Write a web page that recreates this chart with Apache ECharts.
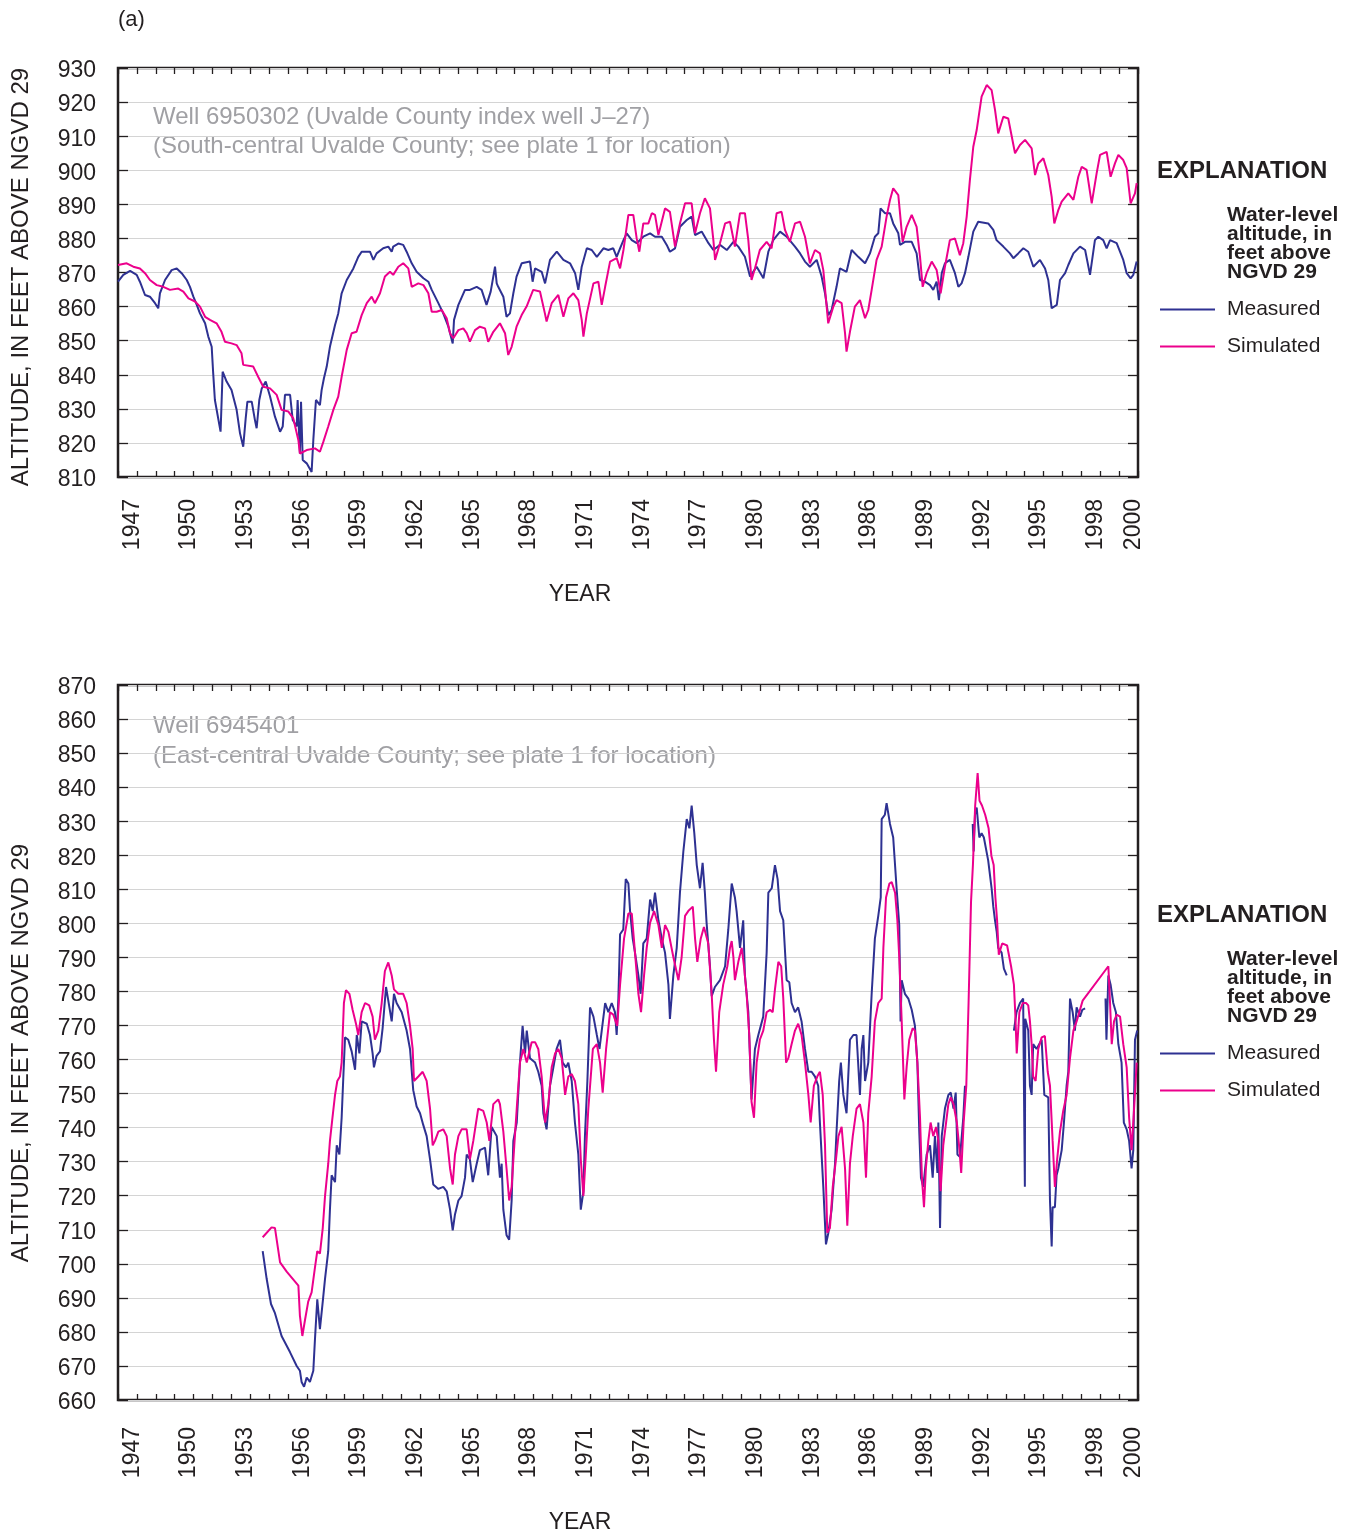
<!DOCTYPE html>
<html>
<head>
<meta charset="utf-8">
<script src="https://cdn.jsdelivr.net/npm/echarts@6/dist/echarts.min.js"></script>
<style>
  html, body { margin: 0; padding: 0; background: #fff; }
  #chart { width: 1353px; height: 1535px; }
</style>
</head>
<body>
<div id="chart"></div>
<script>
// year tick labels (one category per calendar year)
const yearLabels = ['1947','1948','1949','1950','1951','1952','1953','1954','1955','1956',
  '1957','1958','1959','1960','1961','1962','1963','1964','1965','1966','1967','1968','1969',
  '1970','1971','1972','1973','1974','1975','1976','1977','1978','1979','1980','1981','1982',
  '1983','1984','1985','1986','1987','1988','1989','1990','1991','1992','1993','1994','1995',
  '1996','1997','1998','1999','2000'];

// (a) Well 6950302 -- [decimal year, altitude]
const wellAMeasured = [[1947.00,867.3],[1947.28,869.3],[1947.64,870.5],[1947.99,869.3],[1948.16,867.3],[1948.43,863.4],[1948.69,862.9],[1948.96,861.0],[1949.13,859.5],[1949.22,863.9],[1949.49,867.8],[1949.84,870.7],[1950.11,871.2],[1950.37,869.8],[1950.64,867.8],[1950.81,865.8],[1950.99,862.9],[1951.17,860.5],[1951.34,858.0],[1951.61,855.1],[1951.78,851.2],[1951.96,848.2],[1952.04,840.4],[1952.13,832.6],[1952.43,823.3],[1952.54,840.9],[1952.75,838.0],[1953.01,835.5],[1953.28,829.7],[1953.46,822.8],[1953.63,818.9],[1953.76,827.2],[1953.85,832.1],[1954.08,832.1],[1954.25,826.7],[1954.34,824.3],[1954.48,832.6],[1954.61,836.0],[1954.82,838.0],[1955.05,833.6],[1955.31,827.7],[1955.58,823.3],[1955.72,824.8],[1955.84,834.1],[1956.11,834.1],[1956.25,826.7],[1956.46,824.8],[1956.51,832.6],[1956.63,816.9],[1956.69,832.1],[1956.78,815.0],[1956.99,814.0],[1957.25,811.5],[1957.34,820.8],[1957.48,832.6],[1957.69,831.1],[1957.78,835.5],[1957.90,838.9],[1958.05,842.4],[1958.22,848.2],[1958.49,854.6],[1958.66,858.0],[1958.84,863.9],[1959.11,867.8],[1959.46,871.2],[1959.72,874.6],[1959.90,876.1],[1960.34,876.1],[1960.52,873.7],[1960.69,875.6],[1961.04,877.1],[1961.31,877.6],[1961.49,876.1],[1961.57,877.6],[1961.84,878.5],[1962.10,878.1],[1962.28,876.1],[1962.55,872.7],[1962.81,870.2],[1963.17,868.3],[1963.43,867.3],[1963.61,864.9],[1963.96,861.0],[1964.22,858.0],[1964.49,854.1],[1964.72,849.2],[1964.79,856.1],[1965.02,860.5],[1965.37,864.9],[1965.63,864.9],[1965.99,865.8],[1966.25,864.9],[1966.51,860.5],[1966.73,864.4],[1966.96,871.7],[1967.05,866.8],[1967.13,865.8],[1967.40,862.9],[1967.57,857.0],[1967.75,858.0],[1967.93,863.9],[1968.10,868.8],[1968.37,872.7],[1968.81,873.2],[1968.95,867.3],[1969.08,871.2],[1969.43,870.2],[1969.61,866.8],[1969.87,873.7],[1970.23,876.1],[1970.58,873.7],[1970.93,872.7],[1971.20,869.8],[1971.37,864.9],[1971.55,871.7],[1971.82,877.1],[1972.08,876.6],[1972.35,874.6],[1972.70,877.1],[1972.96,876.6],[1973.22,877.1],[1973.40,874.6],[1973.58,877.1],[1973.76,879.5],[1973.93,881.5],[1974.20,879.5],[1974.46,878.6],[1974.81,880.5],[1975.17,881.5],[1975.43,880.5],[1975.79,880.5],[1976.05,878.1],[1976.22,876.1],[1976.49,877.1],[1976.75,883.4],[1977.11,885.4],[1977.37,886.4],[1977.55,881.0],[1977.90,882.0],[1978.26,878.6],[1978.52,876.6],[1978.87,878.1],[1979.23,876.6],[1979.58,879.0],[1979.84,877.6],[1980.19,874.6],[1980.46,868.8],[1980.81,871.7],[1981.17,868.3],[1981.43,876.1],[1981.69,879.5],[1982.05,882.0],[1982.40,880.5],[1982.84,877.6],[1983.11,875.6],[1983.37,873.2],[1983.63,871.7],[1983.99,873.7],[1984.25,868.8],[1984.43,863.9],[1984.60,857.5],[1984.78,859.0],[1985.04,865.8],[1985.22,871.2],[1985.57,870.2],[1985.84,876.6],[1986.19,874.6],[1986.55,872.7],[1986.81,875.6],[1987.07,880.5],[1987.25,881.5],[1987.37,888.8],[1987.60,887.4],[1987.87,887.4],[1988.04,884.4],[1988.31,881.5],[1988.40,878.1],[1988.66,879.0],[1989.02,879.0],[1989.28,875.6],[1989.46,867.8],[1989.72,867.3],[1989.99,866.3],[1990.16,864.9],[1990.34,867.3],[1990.46,861.9],[1990.61,869.8],[1990.78,872.7],[1991.04,873.7],[1991.31,869.8],[1991.49,865.8],[1991.66,866.8],[1991.84,869.8],[1992.02,874.6],[1992.28,882.0],[1992.54,884.9],[1993.07,884.4],[1993.34,882.5],[1993.51,879.5],[1993.87,877.6],[1994.22,875.6],[1994.40,874.2],[1994.66,875.6],[1994.93,877.1],[1995.19,876.1],[1995.46,871.7],[1995.81,873.7],[1996.08,871.2],[1996.25,867.8],[1996.43,859.5],[1996.70,860.5],[1996.87,867.8],[1997.14,869.8],[1997.31,872.2],[1997.58,875.6],[1997.93,877.6],[1998.20,876.6],[1998.46,869.3],[1998.72,879.5],[1998.90,880.5],[1999.16,879.5],[1999.34,877.1],[1999.52,879.5],[1999.87,878.6],[2000.22,873.7],[2000.40,869.8],[2000.61,868.3],[2000.75,869.3],[2000.93,873.2]];

const wellASimulated = [[1947.00,872.2],[1947.46,872.7],[1947.81,871.7],[1948.16,871.2],[1948.43,869.8],[1948.69,867.8],[1949.05,866.3],[1949.40,865.8],[1949.75,864.9],[1950.19,865.3],[1950.46,864.4],[1950.73,862.4],[1951.08,861.5],[1951.34,860.0],[1951.61,857.0],[1951.87,856.1],[1952.22,855.1],[1952.48,852.6],[1952.66,849.7],[1953.01,849.2],[1953.28,848.7],[1953.54,846.3],[1953.63,842.9],[1954.16,842.4],[1954.42,839.4],[1954.69,836.5],[1955.05,836.0],[1955.40,834.1],[1955.66,829.7],[1956.02,829.2],[1956.28,827.2],[1956.55,820.8],[1956.63,816.9],[1956.99,817.9],[1957.43,818.4],[1957.69,817.4],[1957.87,820.3],[1958.13,824.8],[1958.40,829.7],[1958.66,833.6],[1958.84,839.4],[1959.11,847.3],[1959.37,852.2],[1959.63,852.6],[1959.90,857.5],[1960.17,861.0],[1960.43,862.9],[1960.60,861.0],[1960.87,863.9],[1961.13,868.8],[1961.40,870.2],[1961.57,869.3],[1961.84,871.7],[1962.10,872.7],[1962.37,871.2],[1962.55,865.8],[1962.90,866.8],[1963.17,866.3],[1963.43,863.9],[1963.61,858.5],[1963.87,858.5],[1964.14,859.0],[1964.40,856.6],[1964.58,852.2],[1964.75,850.7],[1965.02,853.1],[1965.28,853.6],[1965.46,852.2],[1965.63,849.7],[1965.90,853.1],[1966.16,854.1],[1966.43,853.6],[1966.60,849.7],[1966.87,852.6],[1967.22,855.1],[1967.49,852.2],[1967.66,845.8],[1967.84,848.2],[1968.10,854.1],[1968.37,857.5],[1968.63,860.0],[1968.98,864.9],[1969.34,864.4],[1969.60,858.0],[1969.69,855.6],[1969.96,861.0],[1970.31,863.4],[1970.58,857.0],[1970.84,862.4],[1971.11,863.9],[1971.37,861.9],[1971.55,856.1],[1971.64,851.2],[1971.82,858.0],[1972.17,866.8],[1972.43,867.3],[1972.61,860.5],[1972.79,865.8],[1973.05,873.2],[1973.40,874.2],[1973.58,871.2],[1973.76,876.6],[1974.02,886.9],[1974.28,886.9],[1974.46,880.0],[1974.60,876.1],[1974.81,884.4],[1975.08,884.4],[1975.26,887.4],[1975.43,886.9],[1975.61,881.0],[1975.96,888.8],[1976.22,887.8],[1976.49,877.6],[1976.75,884.4],[1977.02,890.3],[1977.37,890.3],[1977.55,881.5],[1977.81,887.4],[1978.07,891.8],[1978.34,888.8],[1978.52,879.5],[1978.61,873.7],[1978.87,878.6],[1979.14,884.4],[1979.40,884.9],[1979.66,877.6],[1979.93,887.4],[1980.19,887.4],[1980.37,879.5],[1980.54,867.8],[1980.72,871.2],[1980.98,876.6],[1981.34,879.0],[1981.60,877.1],[1981.87,887.4],[1982.13,887.8],[1982.31,882.5],[1982.57,879.0],[1982.84,884.4],[1983.11,884.9],[1983.37,880.5],[1983.63,872.7],[1983.90,876.6],[1984.16,875.6],[1984.34,870.7],[1984.60,855.1],[1984.87,860.0],[1985.04,861.9],[1985.31,861.0],[1985.49,852.2],[1985.57,846.8],[1985.75,852.6],[1986.01,860.0],[1986.28,861.9],[1986.55,856.6],[1986.72,859.0],[1986.90,864.9],[1987.16,873.7],[1987.43,877.6],[1987.69,886.4],[1987.87,891.3],[1988.04,894.7],[1988.31,892.7],[1988.40,887.4],[1988.54,879.0],[1988.75,883.4],[1989.02,886.9],[1989.28,883.4],[1989.46,874.6],[1989.60,865.8],[1989.81,869.8],[1990.08,873.2],[1990.34,870.7],[1990.55,863.9],[1990.78,871.7],[1991.04,879.5],[1991.31,880.0],[1991.57,875.1],[1991.75,878.6],[1991.93,886.4],[1992.10,897.1],[1992.28,906.9],[1992.46,911.8],[1992.72,921.6],[1992.99,925.0],[1993.25,923.5],[1993.43,917.7],[1993.60,910.8],[1993.87,915.7],[1994.13,915.2],[1994.49,905.0],[1994.75,907.4],[1995.02,908.9],[1995.37,906.4],[1995.55,898.6],[1995.72,902.0],[1995.99,903.5],[1996.25,898.6],[1996.43,892.2],[1996.57,884.4],[1996.78,888.3],[1996.96,890.8],[1997.31,893.2],[1997.58,891.3],[1997.84,898.1],[1998.02,901.0],[1998.28,900.1],[1998.55,890.3],[1998.81,899.1],[1998.99,904.5],[1999.34,905.4],[1999.55,898.1],[1999.78,902.0],[1999.96,904.5],[2000.22,903.0],[2000.40,900.6],[2000.61,890.3],[2000.84,893.2],[2000.93,896.2]];

// Well 6945401 -- null marks a gap in the record
const wellBMeasured = [[1954.66,703.7],[1954.87,695.6],[1955.10,688.2],[1955.31,685.5],[1955.66,678.8],[1956.11,674.0],[1956.46,670.0],[1956.63,668.6],[1956.72,665.3],[1956.85,663.9],[1956.99,666.6],[1957.16,665.3],[1957.34,668.6],[1957.43,678.1],[1957.55,689.6],[1957.69,680.8],[1957.78,680.5],[1957.84,688.9],[1957.96,695.6],[1958.13,703.7],[1958.22,715.9],[1958.31,726.0],[1958.49,724.0],[1958.58,734.8],[1958.72,732.1],[1958.84,742.9],[1958.93,755.0],[1959.02,766.5],[1959.19,765.8],[1959.37,762.4],[1959.55,757.0],[1959.64,767.2],[1959.78,761.8],[1959.90,771.2],[1960.17,770.5],[1960.34,767.2],[1960.48,761.8],[1960.55,757.7],[1960.69,761.1],[1960.87,762.4],[1961.01,769.2],[1961.19,781.3],[1961.31,777.3],[1961.49,771.2],[1961.61,779.3],[1961.75,776.6],[1962.02,773.9],[1962.28,768.5],[1962.46,763.1],[1962.63,751.0],[1962.81,746.2],[1962.99,744.2],[1963.16,740.8],[1963.34,737.5],[1963.52,730.7],[1963.69,723.3],[1963.96,722.0],[1964.22,722.6],[1964.40,721.3],[1964.58,715.9],[1964.72,709.8],[1964.84,714.5],[1965.02,718.6],[1965.19,719.9],[1965.37,725.3],[1965.46,732.1],[1965.63,730.7],[1965.78,724.0],[1965.99,729.4],[1966.16,733.4],[1966.43,734.1],[1966.60,726.0],[1966.78,740.2],[1967.05,737.5],[1967.22,725.3],[1967.31,729.4],[1967.40,715.9],[1967.57,708.4],[1967.71,707.1],[1967.84,718.6],[1967.93,736.1],[1968.11,741.5],[1968.28,759.1],[1968.42,769.9],[1968.55,761.8],[1968.64,768.5],[1968.81,760.4],[1969.08,759.1],[1969.25,756.4],[1969.43,752.3],[1969.52,744.2],[1969.69,739.5],[1969.87,752.3],[1970.05,757.7],[1970.22,763.1],[1970.40,765.8],[1970.54,759.1],[1970.72,757.7],[1970.84,759.1],[1971.02,753.7],[1971.19,741.5],[1971.37,732.1],[1971.50,715.9],[1971.64,721.3],[1971.72,737.5],[1971.85,753.7],[1971.99,775.3],[1972.17,772.6],[1972.35,767.2],[1972.49,763.1],[1972.61,768.5],[1972.79,776.6],[1972.96,773.9],[1973.14,776.6],[1973.31,773.9],[1973.40,767.2],[1973.49,777.9],[1973.58,796.8],[1973.75,798.2],[1973.88,813.0],[1974.02,811.7],[1974.11,803.6],[1974.25,795.5],[1974.37,791.4],[1974.55,784.7],[1974.67,779.3],[1974.81,794.1],[1974.99,795.5],[1975.17,807.0],[1975.31,803.6],[1975.43,809.0],[1975.61,800.9],[1975.79,795.5],[1975.96,791.4],[1976.14,782.0],[1976.22,771.9],[1976.40,784.7],[1976.58,792.8],[1976.75,809.0],[1976.93,821.1],[1977.11,830.6],[1977.25,827.9],[1977.37,834.6],[1977.51,826.5],[1977.64,817.1],[1977.81,810.3],[1977.95,817.8],[1978.07,809.0],[1978.16,800.2],[1978.34,787.4],[1978.43,778.6],[1978.60,781.3],[1978.87,783.3],[1979.14,787.4],[1979.31,798.2],[1979.49,811.7],[1979.66,807.6],[1979.75,803.6],[1979.93,792.8],[1980.10,800.9],[1980.19,784.7],[1980.37,773.9],[1980.54,748.3],[1980.72,763.1],[1980.90,767.2],[1981.16,772.6],[1981.34,791.4],[1981.43,809.0],[1981.61,810.3],[1981.78,817.1],[1981.92,813.0],[1982.05,803.6],[1982.22,800.9],[1982.40,783.3],[1982.54,782.7],[1982.66,776.6],[1982.84,773.9],[1983.01,775.3],[1983.19,771.2],[1983.37,763.1],[1983.55,756.4],[1983.72,756.4],[1983.90,755.0],[1984.07,752.3],[1984.16,741.5],[1984.34,722.6],[1984.48,705.7],[1984.60,708.9],[1984.78,715.9],[1984.96,729.4],[1985.04,738.8],[1985.18,753.7],[1985.27,759.1],[1985.40,749.6],[1985.57,744.2],[1985.75,765.8],[1985.93,767.2],[1986.10,767.2],[1986.28,749.6],[1986.37,763.1],[1986.46,767.2],[1986.55,753.7],[1986.72,759.1],[1986.90,779.3],[1987.07,795.5],[1987.25,802.2],[1987.38,807.6],[1987.43,830.6],[1987.60,831.9],[1987.69,835.3],[1987.87,829.2],[1988.04,825.2],[1988.22,810.3],[1988.36,799.5],[1988.43,771.2],[1988.49,783.3],[1988.66,779.3],[1988.84,777.9],[1989.02,774.6],[1989.19,769.9],[1989.32,759.1],[1989.42,738.8],[1989.51,725.3],[1989.63,722.6],[1989.81,732.1],[1989.99,734.8],[1990.13,725.3],[1990.25,737.5],[1990.38,726.7],[1990.43,741.5],[1990.52,710.5],[1990.61,737.5],[1990.78,745.6],[1990.96,749.6],[1991.09,750.3],[1991.23,745.6],[1991.35,750.3],[1991.44,732.1],[1991.58,731.4],[1991.75,742.9],[1991.84,752.3],[1992.05,null],[1992.25,829.2],[1992.30,821.1],[1992.37,831.9],[1992.46,834.0],[1992.60,825.2],[1992.72,826.5],[1992.84,825.2],[1993.07,818.4],[1993.25,810.3],[1993.34,804.9],[1993.43,800.9],[1993.52,797.5],[1993.60,792.8],[1993.78,791.4],[1993.90,786.7],[1994.05,784.7],[1994.25,null],[1994.43,768.5],[1994.57,773.9],[1994.75,776.6],[1994.92,777.9],[1995.01,722.6],[1995.03,772.0],[1995.19,768.5],[1995.28,752.3],[1995.37,749.6],[1995.45,764.5],[1995.63,763.1],[1995.90,765.8],[1996.04,749.6],[1996.25,748.9],[1996.34,718.6],[1996.43,705.1],[1996.48,716.6],[1996.60,716.6],[1996.69,726.0],[1996.78,728.0],[1996.96,733.4],[1997.08,741.5],[1997.22,752.3],[1997.31,756.4],[1997.40,777.9],[1997.54,773.9],[1997.66,768.5],[1997.75,775.3],[1997.93,772.6],[1998.05,774.6],[1998.20,775.0],[1998.70,null],[1999.28,777.9],[1999.33,765.8],[1999.43,784.7],[1999.55,782.0],[1999.69,776.6],[1999.83,773.9],[1999.96,764.5],[2000.13,759.1],[2000.25,741.5],[2000.40,739.5],[2000.53,736.1],[2000.66,728.0],[2000.75,733.4],[2000.84,765.8],[2000.96,768.5]];

const wellBSimulated = [[1954.66,707.8],[1955.13,710.7],[1955.31,710.5],[1955.58,700.4],[1955.93,697.7],[1956.55,693.6],[1956.63,684.8],[1956.76,678.8],[1956.90,683.5],[1957.07,688.9],[1957.25,691.6],[1957.43,699.0],[1957.55,703.7],[1957.69,703.0],[1957.84,710.5],[1957.96,719.9],[1958.13,729.4],[1958.22,736.1],[1958.34,742.2],[1958.49,749.6],[1958.61,753.7],[1958.75,755.0],[1958.84,759.1],[1958.96,776.6],[1959.07,780.4],[1959.25,779.3],[1959.42,774.6],[1959.60,770.5],[1959.72,767.2],[1959.90,773.9],[1960.08,776.6],[1960.30,775.9],[1960.48,772.6],[1960.60,765.8],[1960.78,768.5],[1960.96,776.6],[1961.13,786.0],[1961.31,788.5],[1961.49,784.7],[1961.61,780.6],[1961.84,779.3],[1962.10,779.3],[1962.28,776.6],[1962.46,769.9],[1962.60,763.1],[1962.67,753.7],[1962.90,755.0],[1963.13,756.4],[1963.34,753.7],[1963.52,745.6],[1963.66,734.8],[1963.78,736.1],[1963.96,738.8],[1964.22,739.5],[1964.40,737.5],[1964.58,728.0],[1964.72,723.3],[1964.84,732.1],[1965.02,737.5],[1965.19,739.5],[1965.46,739.5],[1965.63,730.7],[1965.81,736.1],[1966.07,745.6],[1966.34,744.9],[1966.52,741.5],[1966.66,736.1],[1966.87,746.9],[1967.13,748.3],[1967.22,746.9],[1967.40,738.8],[1967.57,728.0],[1967.71,718.6],[1967.84,722.6],[1967.98,734.8],[1968.11,745.6],[1968.28,759.1],[1968.46,763.1],[1968.64,759.1],[1968.90,765.1],[1969.08,765.1],[1969.25,763.1],[1969.43,755.0],[1969.61,741.5],[1969.78,746.9],[1969.96,757.7],[1970.14,761.8],[1970.31,763.1],[1970.49,760.4],[1970.67,749.6],[1970.84,755.0],[1971.02,755.7],[1971.19,753.7],[1971.37,746.9],[1971.50,730.7],[1971.64,719.9],[1971.78,733.4],[1971.90,745.6],[1972.14,763.1],[1972.35,764.5],[1972.52,759.1],[1972.66,750.3],[1972.84,763.1],[1973.05,773.9],[1973.22,773.2],[1973.43,769.9],[1973.58,782.0],[1973.79,795.5],[1974.02,802.9],[1974.20,802.9],[1974.37,791.4],[1974.55,779.3],[1974.69,773.9],[1974.85,784.7],[1974.99,792.8],[1975.17,800.2],[1975.38,803.6],[1975.61,799.5],[1975.79,792.8],[1975.96,799.5],[1976.14,797.5],[1976.40,790.1],[1976.67,783.3],[1976.84,790.1],[1977.02,802.2],[1977.19,803.6],[1977.43,804.9],[1977.55,795.5],[1977.67,788.7],[1977.85,795.5],[1978.02,798.9],[1978.25,794.1],[1978.43,779.3],[1978.55,765.8],[1978.66,756.4],[1978.83,773.9],[1979.04,782.0],[1979.26,787.4],[1979.40,792.8],[1979.49,794.8],[1979.58,790.1],[1979.66,783.3],[1979.84,788.7],[1980.02,792.8],[1980.14,787.4],[1980.28,779.3],[1980.42,767.2],[1980.54,747.6],[1980.67,742.9],[1980.81,759.1],[1980.98,765.8],[1981.16,768.5],[1981.34,773.9],[1981.52,774.6],[1981.66,773.9],[1981.78,780.6],[1981.96,788.7],[1982.11,787.4],[1982.22,778.0],[1982.37,759.1],[1982.49,760.4],[1982.66,764.5],[1982.84,768.5],[1983.01,770.5],[1983.19,767.2],[1983.37,759.1],[1983.55,749.6],[1983.67,741.5],[1983.84,752.3],[1984.02,755.0],[1984.16,756.4],[1984.31,749.6],[1984.43,734.8],[1984.55,709.1],[1984.69,710.5],[1984.84,722.6],[1985.01,730.7],[1985.14,737.5],[1985.31,740.2],[1985.49,728.0],[1985.61,711.2],[1985.75,729.4],[1985.90,737.5],[1986.10,745.6],[1986.28,746.9],[1986.46,741.5],[1986.60,725.3],[1986.72,744.2],[1986.90,755.0],[1987.07,771.2],[1987.25,776.6],[1987.43,777.9],[1987.52,792.8],[1987.66,807.6],[1987.84,811.7],[1987.96,812.1],[1988.14,809.0],[1988.26,800.9],[1988.36,790.1],[1988.49,771.2],[1988.63,748.3],[1988.75,757.7],[1988.89,765.8],[1989.07,769.2],[1989.19,768.5],[1989.32,759.1],[1989.46,742.9],[1989.56,725.3],[1989.67,716.6],[1989.77,728.0],[1989.90,736.1],[1990.02,741.5],[1990.16,737.5],[1990.31,740.2],[1990.43,736.1],[1990.55,721.3],[1990.69,734.8],[1990.84,741.5],[1990.96,746.9],[1991.09,748.9],[1991.23,746.9],[1991.41,741.5],[1991.55,733.4],[1991.64,726.7],[1991.77,741.5],[1991.91,752.3],[1992.03,776.6],[1992.16,806.3],[1992.26,817.1],[1992.38,834.6],[1992.51,844.1],[1992.61,836.0],[1992.74,834.6],[1992.91,831.9],[1993.09,827.9],[1993.24,819.8],[1993.36,817.1],[1993.45,807.6],[1993.54,800.9],[1993.63,790.8],[1993.81,794.1],[1994.07,793.5],[1994.28,787.4],[1994.43,782.0],[1994.50,773.9],[1994.58,761.8],[1994.72,773.9],[1994.90,776.6],[1995.07,776.6],[1995.19,775.9],[1995.28,771.2],[1995.37,764.5],[1995.45,755.0],[1995.58,753.7],[1995.72,763.1],[1995.90,766.5],[1996.07,766.9],[1996.22,756.4],[1996.34,752.3],[1996.48,736.1],[1996.60,722.6],[1996.72,730.7],[1996.87,738.8],[1997.04,744.9],[1997.22,749.6],[1997.40,760.4],[1997.58,768.5],[1997.75,771.2],[1998.07,777.3],[1999.43,787.4],[1999.52,776.6],[1999.61,764.5],[1999.73,771.2],[1999.87,773.2],[2000.05,772.6],[2000.22,764.5],[2000.40,757.7],[2000.53,742.9],[2000.66,733.4],[2000.78,744.2],[2000.93,759.1]];

const FONT = '"Liberation Sans", Arial, Helvetica, sans-serif';
const INK = '#231f20';
const BLUE = '#2e3192';
const PINK = '#ec008c';
const NOTE = '#a0a0a4';

const panels = [
  { top: 68, height: 409, min: 810, max: 930, nameY: 277, yearY: 595, yearMargin: 22,
    noteY: [117, 146], exY: 171,
    notes: ['Well 6950302 (Uvalde County index well J\u201327)', '(South-central Uvalde County; see plate 1 for location)'] },
  { top: 685, height: 715, min: 660, max: 870, nameY: 1053, yearY: 1523, yearMargin: 27,
    noteY: [726, 756], exY: 915,
    notes: ['Well 6945401', '(East-central Uvalde County; see plate 1 for location)'] }
];

const showYear = (idx) => idx % 3 === 0 || idx === yearLabels.length - 1;

const text = (t, x, y, opts) => Object.assign({
  type: 'text', x, y, silent: true,
  style: Object.assign({ text: t, fontFamily: FONT, fontSize: 23, fill: INK,
    align: 'left', verticalAlign: 'middle' }, opts || {})
});

const grid = [], xAxis = [], yAxis = [], graphic = [], legend = [];

panels.forEach((p, i) => {
  grid.push({ left: 118, top: p.top, width: 1020, height: p.height, containLabel: false,
    outerBoundsMode: 'none',
    show: true, borderColor: INK, borderWidth: 2.5, backgroundColor: 'transparent' });

  // value axis used by the series
  xAxis.push({ type: 'value', gridIndex: i, min: 1947, max: 2001, show: false });
  // bottom year axis
  xAxis.push({ type: 'category', gridIndex: i, position: 'bottom', data: yearLabels, boundaryGap: true,
    axisLine: { show: false },
    axisTick: { show: true, inside: true, length: 6, interval: 0, lineStyle: { color: INK, width: 1.3 } },
    axisLabel: { rotate: 90, interval: (idx) => showYear(idx), margin: p.yearMargin,
      verticalAlign: 'top', lineHeight: 10,
      fontFamily: FONT, fontSize: 23, color: INK } });
  // top tick axis
  xAxis.push({ type: 'category', gridIndex: i, position: 'top', data: yearLabels, boundaryGap: true,
    axisLine: { show: false },
    axisTick: { show: true, inside: true, length: 6, interval: 0, lineStyle: { color: INK, width: 1.3 } },
    axisLabel: { show: false } });

  yAxis.push({ type: 'value', gridIndex: i, position: 'left', min: p.min, max: p.max, interval: 10,
    axisLine: { show: false },
    axisTick: { show: true, inside: true, length: 10, lineStyle: { color: INK, width: 1.3 } },
    axisLabel: { margin: 22, verticalAlign: 'top', lineHeight: 6,
      fontFamily: FONT, fontSize: 23, color: INK },
    splitLine: { show: true, lineStyle: { color: '#d4d4d4', width: 1.2 } } });
  yAxis.push({ type: 'value', gridIndex: i, position: 'right', min: p.min, max: p.max, interval: 10,
    axisLine: { show: false },
    axisTick: { show: true, inside: true, length: 10, lineStyle: { color: INK, width: 1.3 } },
    axisLabel: { show: false }, splitLine: { show: false } });

  // axis titles
  graphic.push(Object.assign(text('ALTITUDE, IN FEET ABOVE NGVD 29', 21, p.nameY,
    { fontSize: 24, align: 'center' }), { rotation: Math.PI / 2 }));
  graphic.push(text('YEAR', 580, p.yearY, { align: 'center' }));

  // well notes inside the plot
  p.notes.forEach((t, k) => graphic.push(text(t, 153, p.noteY[k], { fontSize: 24, fill: NOTE })));

  // explanation block
  graphic.push(text('EXPLANATION', 1157, p.exY, { fontSize: 24, fontWeight: 'bold' }));
  ['Water-level', 'altitude, in', 'feet above', 'NGVD 29'].forEach((t, k) =>
    graphic.push(text(t, 1227, p.exY + 44 + k * 19, { fontSize: 21, fontWeight: 'bold' })));

  legend.push({ data: ['Measured', 'Simulated'], orient: 'vertical', left: 1160, top: p.exY + 128,
    padding: 0, icon: 'rect', itemWidth: 55, itemHeight: 2, itemGap: 16, selectedMode: false,
    textStyle: { fontFamily: FONT, fontSize: 21, color: INK, lineHeight: 21, padding: [0, 0, 0, 7] } });
});

graphic.push(text('(a)', 118, 20, { fontSize: 22 }));

const lineSeries = (name, data, i, color) => ({
  name, type: 'line', data, xAxisIndex: i * 3, yAxisIndex: i * 2,
  symbol: 'none', connectNulls: false, animation: false,
  lineStyle: { color, width: 2 }, itemStyle: { color }
});

const chart = echarts.init(document.getElementById('chart'));
chart.setOption({
  animation: false,
  backgroundColor: '#fff',
  grid, xAxis, yAxis, legend, graphic,
  series: [
    lineSeries('Measured', wellAMeasured, 0, BLUE),
    lineSeries('Simulated', wellASimulated, 0, PINK),
    lineSeries('Measured', wellBMeasured, 1, BLUE),
    lineSeries('Simulated', wellBSimulated, 1, PINK)
  ]
});
window.addEventListener('resize', () => chart.resize());
</script>
</body>
</html>
